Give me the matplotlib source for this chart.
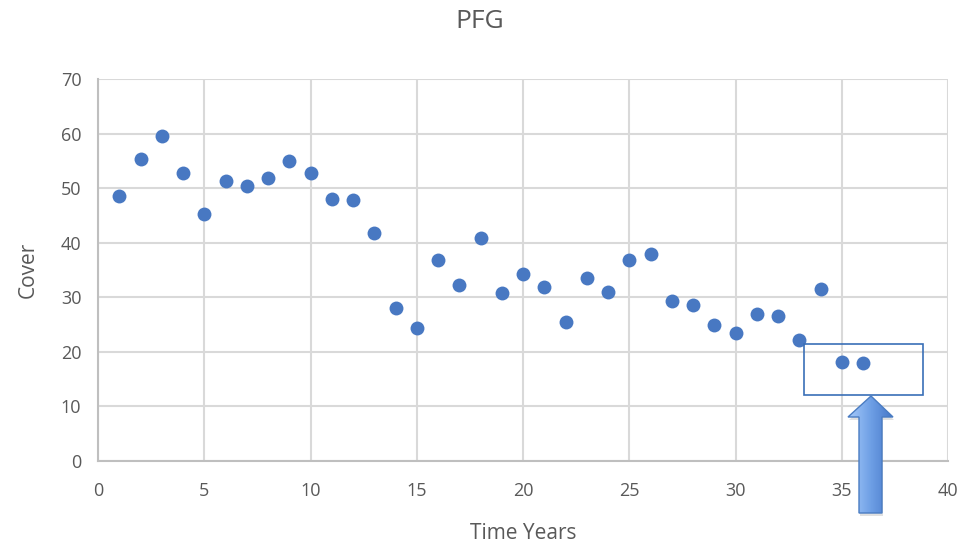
import numpy as np
import matplotlib.pyplot as plt
from matplotlib.colors import LinearSegmentedColormap
from matplotlib.patches import Rectangle, Polygon

years = list(range(1, 37))
cover = [48.6, 55.3, 59.6, 52.8, 45.3, 51.3, 50.4, 51.9, 55.0, 52.8,
         48.0, 47.8, 41.8, 28.0, 24.4, 36.8, 32.3, 40.9, 30.8, 34.3,
         31.9, 25.5, 33.5, 31.0, 36.8, 37.9, 29.3, 28.6, 24.9, 23.5,
         26.9, 26.6, 22.2, 31.5, 18.1, 18.0]
x_ticks = [0, 5, 10, 15, 20, 25, 30, 35, 40]
y_ticks = [0, 10, 20, 30, 40, 50, 60, 70]

plt.rcParams['font.family'] = ['Open Sans', 'DejaVu Sans']
txt = '#595959'
grid = '#d9d9d9'

W, H = 973, 550
fig = plt.figure(figsize=(W / 100, H / 100), dpi=100)
ax = fig.add_axes([98 / W, 1 - 461 / H, (948 - 98) / W, (461 - 79) / H])

ax.scatter(years, cover, s=100, color='#4878c2', zorder=3, linewidths=0)

ax.set_xlim(0, 40)
ax.set_ylim(0, 70)
ax.set_xticks(x_ticks)
ax.set_yticks(y_ticks)
ax.grid(True, color=grid, linewidth=1.5)
ax.set_axisbelow(True)
for s in ['top', 'right']:
    ax.spines[s].set_visible(False)
for s in ['left', 'bottom']:
    ax.spines[s].set_color('#bfbfbf')
    ax.spines[s].set_linewidth(1.5)
ax.tick_params(length=0, labelsize=13, labelcolor=txt, pad=12)
ax.tick_params(axis='x', pad=15)

ax.set_xlabel('Time Years', fontsize=15, color=txt, labelpad=17)
ax.set_ylabel('Cover', fontsize=15, color=txt, labelpad=16)
fig.text(480 / W, 1 - 22 / H, 'PFG', fontsize=19, color=txt,
         ha='center', va='center')

# highlight box around last two points
ax.add_patch(Rectangle((33.2, 12.1), 5.6, 9.3, fill=False, edgecolor='#3a6fb7',
                       linewidth=1.2, zorder=4, clip_on=False))

# arrow pointing at the box, drawn in pixel coordinates
ov = fig.add_axes([0, 0, 1, 1], zorder=10)
ov.set_xlim(0, W)
ov.set_ylim(H, 0)
ov.axis('off')
pts = [(871, 396), (893, 417), (882, 417), (882, 513), (859, 513), (859, 417), (848, 417)]
shadow = Polygon([(x + 1, y + 3) for x, y in pts], closed=True, facecolor='#9a9a9a',
                 edgecolor='none', alpha=0.3, zorder=0)
ov.add_patch(shadow)
arrow = Polygon(pts, closed=True, facecolor='none', edgecolor='#4a7cc2',
                linewidth=1, zorder=2)
ov.add_patch(arrow)
grad = np.linspace(0, 1, 64).reshape(1, -1)
cmap = LinearSegmentedColormap.from_list('g', ['#a6cafa', '#6fa0e6', '#4677c8'])
im = ov.imshow(grad, cmap=cmap, extent=(848, 893, 513, 396), aspect='auto',
               interpolation='bilinear', zorder=1)
im.set_clip_path(arrow)
ov.set_xlim(0, W)
ov.set_ylim(H, 0)

fig.savefig('out.png', dpi=100)
